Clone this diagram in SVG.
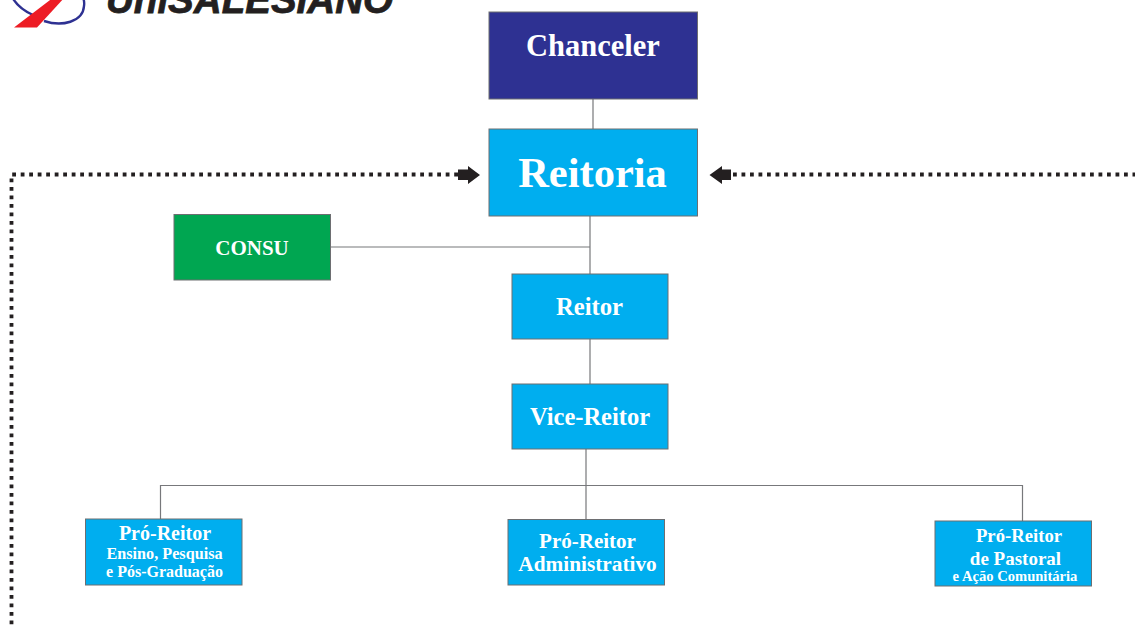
<svg xmlns="http://www.w3.org/2000/svg" width="1135" height="626" viewBox="0 0 1135 626">
<style>
text{font-family:"Liberation Serif","DejaVu Serif",serif;font-weight:700;fill:#fff;text-anchor:middle}
.box{stroke:#6d6e71;stroke-width:1}
.blue{fill:#00aeef}
.con{fill:none;stroke:#77787b;stroke-width:1.2}
.dot{fill:none;stroke:#231f20;stroke-width:3.8;stroke-dasharray:3.8 4.7}
.arr{fill:#231f20}
</style>
<rect width="1135" height="626" fill="#fff"/>
<g id="logo">
<path d="M12 -3C17 6 24 11 33 15M44 21C62 27 83 22 84 6C84.500 3 84 0 83 -3" fill="none" stroke="#2e3192" stroke-width="2.400"/>
<path d="M14 27.500L37 27.500L65 -3L54 -3L33 13Z" fill="#ed1c24"/>
<text x="249.500" y="13" style="font-family:'Liberation Sans',sans-serif;font-style:italic;fill:#231f20;stroke:#231f20;stroke-width:.8" font-size="39" textLength="287" lengthAdjust="spacingAndGlyphs">UniSALESIANO</text>
</g>
<g id="connectors">
<path class="con" d="M593 99V129M590 216V274M331 247H590M590 339V384M586 449V519M160.500 519V485.500H1022.500V521"/>
<path class="dot" d="M458 174.500H11.500V626"/>
<path class="dot" d="M733 174.500H1135"/>
<path class="arr" d="M458 169.500H468V166L480 175L468 184V180H458Z"/>
<path class="arr" d="M731 169.500H722V166L709.500 175L722 184V180H731Z"/>
</g>
<g id="chanceler"><rect class="box" x="489" y="12" width="208.500" height="87" fill="#2e3192"/><text x="593" y="56" font-size="30.500">Chanceler</text></g>
<g id="reitoria"><rect class="box blue" x="489" y="129" width="208.500" height="87"/><text x="592.500" y="187" font-size="42.500">Reitoria</text></g>
<g id="consu"><rect class="box" x="174" y="214.500" width="156.500" height="65.500" fill="#00a651"/><text x="252" y="255" font-size="21">CONSU</text></g>
<g id="reitor"><rect class="box blue" x="512" y="274" width="156" height="65"/><text x="589.500" y="314.500" font-size="24.700">Reitor</text></g>
<g id="vice-reitor"><rect class="box blue" x="512" y="384" width="156" height="65"/><text x="590" y="424.500" font-size="24.500">Vice-Reitor</text></g>
<g id="pro-ensino"><rect class="box blue" x="85.500" y="519" width="156.500" height="66"/><text x="165" y="539.500" font-size="20">Pró-Reitor</text><text x="164.500" y="559" font-size="16.200">Ensino, Pesquisa</text><text x="164.500" y="577" font-size="16">e Pós-Graduação</text></g>
<g id="pro-administrativo"><rect class="box blue" x="508" y="519.500" width="156.500" height="65.500"/><text x="587.500" y="547.500" font-size="21">Pró-Reitor</text><text x="587.500" y="571" font-size="21.300">Administrativo</text></g>
<g id="pro-pastoral"><rect class="box blue" x="935" y="521" width="156.500" height="65"/><text x="1019" y="542" font-size="18.700">Pró-Reitor</text><text x="1015.500" y="565" font-size="19">de Pastoral</text><text x="1015" y="581" font-size="14.600">e Ação Comunitária</text></g>
</svg>
